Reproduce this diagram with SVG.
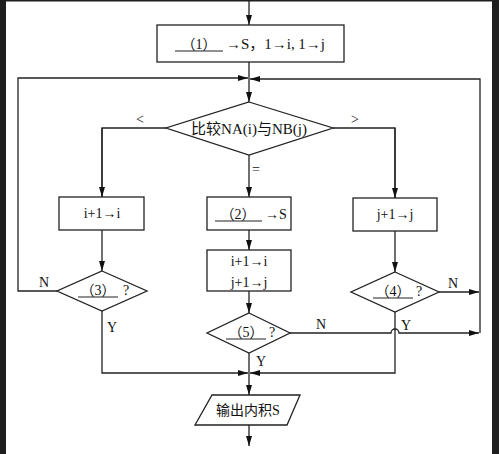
<svg xmlns="http://www.w3.org/2000/svg" width="499" height="454" viewBox="0 0 499 454">
<defs>
<marker id="ah" markerWidth="10" markerHeight="6" refX="10" refY="3" orient="auto" markerUnits="userSpaceOnUse">
<path d="M0,0 L10,3 L0,6 Z" fill="#111"/>
</marker>
<style>
.s{fill:#fff;stroke:#222;stroke-width:1.3}
.l{fill:none;stroke:#222;stroke-width:1.3}
.a{fill:none;stroke:#222;stroke-width:1.3;marker-end:url(#ah)}
text{font-family:"Liberation Serif","Noto Sans CJK SC",serif;font-size:14px;fill:#111}
.c{text-anchor:middle}
.u{stroke:#222;stroke-width:1.2}
</style>
</defs>
<rect x="0" y="0" width="499" height="454" fill="#fff"/>
<rect x="0" y="0" width="6" height="454" fill="#1e1e1e"/>
<rect x="492" y="0" width="7" height="454" fill="#1e1e1e"/>
<rect x="0" y="0" width="499" height="1.5" fill="#1e1e1e"/>

<g id="connectors">
<line class="a" x1="249" y1="0" x2="249" y2="25"/>
<line class="a" x1="249" y1="62" x2="249" y2="102"/>
<polyline class="a" points="57,291 18,291 18,78 248,78"/>
<polyline class="a" points="480,333 480,79 250,79"/>
<polyline class="l" points="166,128 102,128 102,197"/>
<line class="a" x1="102" y1="128" x2="102" y2="197"/>
<polyline class="l" points="333,128 395,128 395,198"/>
<line class="a" x1="395" y1="128" x2="395" y2="198"/>
<line class="a" x1="249" y1="155" x2="249" y2="197"/>
<line class="a" x1="102" y1="230" x2="102" y2="271"/>
<line class="a" x1="395" y1="231" x2="395" y2="272"/>
<line class="a" x1="249" y1="230" x2="249" y2="250"/>
<line class="a" x1="249" y1="291" x2="249" y2="313"/>
<line class="a" x1="439" y1="292" x2="479" y2="292"/>
<path class="a" d="M290,333 L391,333 A4,4 0 0 1 399,333 L479,333"/>
<polyline class="a" points="102,311 102,373 248,373"/>
<polyline class="a" points="395,312 395,373 250,373"/>
<line class="a" x1="249" y1="353" x2="249" y2="395"/>
<line class="a" x1="249" y1="425" x2="249" y2="446"/>
<text x="140" y="124" class="c">&lt;</text>
<text x="355" y="124" class="c">&gt;</text>
<text x="256" y="174" class="c">=</text>
<text x="44" y="287" class="c">N</text>
<text x="112" y="332" class="c">Y</text>
<text x="453" y="288" class="c">N</text>
<text x="406" y="330" class="c">Y</text>
<text x="321" y="329" class="c">N</text>
<text x="261" y="366" class="c">Y</text>
</g>

<g id="init">
<rect class="s" x="157" y="25" width="187" height="37"/>
<line class="u" x1="175" y1="51" x2="223" y2="51"/>
<text x="199" y="49" class="c">（1）</text>
<text x="226" y="49" textLength="99" lengthAdjust="spacingAndGlyphs">→S，1→i, 1→j</text>
</g>

<g id="compare">
<polygon class="s" points="249,102 333,128 249,155 166,128"/>
<text x="249" y="134" class="c" font-size="15" textLength="116" lengthAdjust="spacingAndGlyphs" style="font-size:15px">比较NA(i)与NB(j)</text>
</g>

<g id="inc-i">
<rect class="s" x="59" y="197" width="85" height="33"/>
<text x="102" y="218" class="c">i+1→i</text>
</g>

<g id="assign-s">
<rect class="s" x="207" y="197" width="84" height="33"/>
<line class="u" x1="215" y1="221" x2="262" y2="221"/>
<text x="238" y="219" class="c">（2）</text>
<text x="265" y="219">→S</text>
</g>

<g id="inc-j">
<rect class="s" x="353" y="198" width="84" height="33"/>
<text x="395" y="219" class="c">j+1→j</text>
</g>

<g id="inc-ij">
<rect class="s" x="207" y="250" width="84" height="41"/>
<text x="249" y="266" class="c">i+1→i</text>
<text x="249" y="287" class="c">j+1→j</text>
</g>

<g id="cond3">
<polygon class="s" points="102,271 147,291 102,311 57,291"/>
<line class="u" x1="78" y1="297" x2="118" y2="297"/>
<text x="98" y="295" class="c">（3）</text>
<text x="123" y="295">?</text>
</g>

<g id="cond4">
<polygon class="s" points="395,272 439,292 395,312 351,292"/>
<line class="u" x1="373" y1="298" x2="413" y2="298"/>
<text x="393" y="296" class="c">（4）</text>
<text x="416" y="296">?</text>
</g>

<g id="cond5">
<polygon class="s" points="249,313 290,333 249,353 207,333"/>
<line class="u" x1="226" y1="339" x2="266" y2="339"/>
<text x="246" y="337" class="c">（5）</text>
<text x="269" y="337">?</text>
</g>

<g id="output">
<polygon class="s" points="212,395 300,395 287,425 195,425"/>
<text x="248" y="415" class="c">输出内积S</text>
</g>
</svg>
